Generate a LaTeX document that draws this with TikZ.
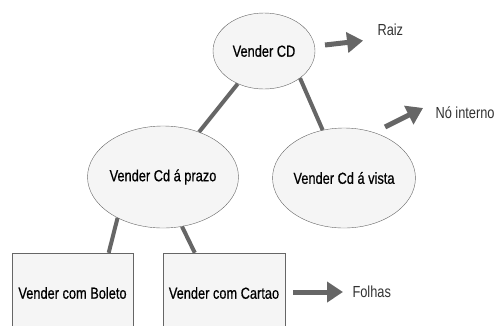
\documentclass[tikz,border=0pt]{standalone}
\usepackage{fontspec}
\setmainfont[FakeStretch=0.8]{Liberation Sans}
\newfontfamily\labelfont[FakeStretch=0.8,FakeBold=0.6]{Liberation Sans}
\usetikzlibrary{shapes.geometric,arrows.meta}
\definecolor{linegray}{HTML}{666666}
\definecolor{boxfill}{HTML}{F5F5F5}
\definecolor{notetext}{HTML}{333333}
\begin{document}
\begin{tikzpicture}[x=1pt,y=-1pt]
	\clip (0,0) rectangle (500,325);
	\begin{scope}[every node/.style={ellipse,draw=linegray,fill=boxfill,inner sep=0pt,font=\labelfont\fontsize{16}{18}\selectfont}]
		\node[minimum width=102pt,minimum height=76pt] (root) at (264,51) {Vender CD};
		\node[minimum width=122pt,minimum height=102pt] (prazo) at (163,177) {Vender Cd á prazo};
		\node[minimum width=122pt,minimum height=100pt] (vista) at (344,178) {Vender Cd á vista};
	\end{scope}
	
	\begin{scope}[every node/.style={rectangle,draw=linegray,fill=boxfill,minimum height=80pt,inner sep=0pt,font=\labelfont\fontsize{16}{18}\selectfont}]
		\node[minimum width=121pt] (boleto) at (72.5,293) {Vender com Boleto};
		\node[minimum width=122pt] (cartao) at (224,293) {Vender com Cartao};
	\end{scope}
	
	\begin{scope}[every node/.style={anchor=west,text=notetext,font=\fontsize{16}{18}\selectfont}]
		\node (raiz) at (374,30) {Raiz};
		\node (interno) at (432,113) {Nó interno};
		\node (folhas) at (349,292) {Folhas};
	\end{scope}
	
	\coordinate (raizStart) at (325,45);
	\coordinate (internoStart) at (385,127);
	\coordinate (folhasStart) at (293,292);
	
	\begin{scope}[every edge/.style={draw=linegray,line width=4pt}]
		\path (root) edge (prazo);
		\path (root.-37) edge (vista.114);
		\path (prazo.-138) edge (boleto.48);
		\path (prazo.-69) edge (cartao.126);
	\end{scope}
	
	\begin{scope}[every edge/.style={draw=linegray,line width=5pt,-{Triangle[length=16pt,width=20pt]}}]
		\path (raizStart) edge[shorten >=11pt] (raiz.south west);
		\path (internoStart) edge[shorten >=10pt] (interno.north west);
		\path (folhasStart) edge[shorten >=6pt] (folhas.west);
	\end{scope}
\end{tikzpicture}
\end{document}
